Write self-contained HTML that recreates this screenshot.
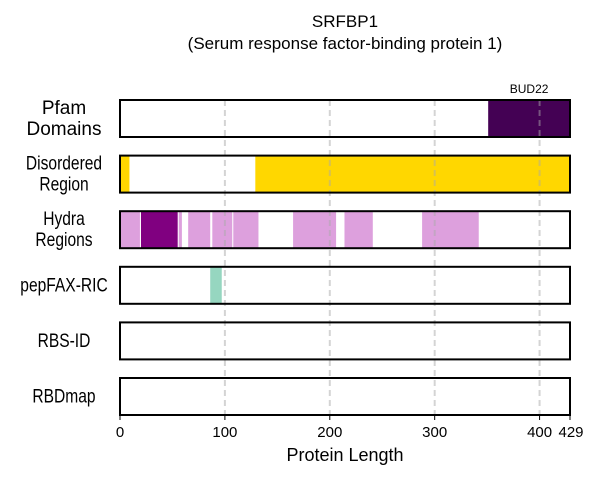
<!DOCTYPE html>
<html><head><meta charset="utf-8"><style>
body{margin:0;background:#fff}
svg text{font-family:"Liberation Sans",Arial,sans-serif;fill:#000}
</style></head><body>
<svg width="600" height="480">
<text x="345" y="27" text-anchor="middle" font-size="17">SRFBP1</text>
<text x="345" y="49" text-anchor="middle" font-size="17">(Serum response factor-binding protein 1)</text>
<g id="plot"></g>
<text x="345" y="461" text-anchor="middle" font-size="18">Protein Length</text>
</svg>
<script>
const proteinLength = 429;
const tickValues = [0, 100, 200, 300, 400, 429];
const tickLabels = ["0", "100", "200", "300", "400", "429"];
const gridValues = [100, 200, 300, 400];
const rowNames = ["Pfam\nDomains", "Disordered\nRegion", "Hydra\nRegions", "pepFAX-RIC", "RBS-ID", "RBDmap"];
const pfamStarts = [351];
const pfamEnds = [429];
const pfamLabels = ["BUD22"];
const disorderedStarts = [0, 129];
const disorderedEnds = [9, 429];
const hydraStarts = [0, 20, 56, 65, 88, 108, 165, 214, 288];
const hydraEnds = [19, 55, 59, 86, 107, 132, 206, 241, 342];
const hydraStrong = [false, true, false, false, false, false, false, false, false];
const pepStarts = [86];
const pepEnds = [97];

const NS = "http://www.w3.org/2000/svg";
const g = document.getElementById("plot");
const X0 = 120, X1 = 570;
const xs = v => X0 + (v / proteinLength) * (X1 - X0);
const rowTop = i => 100 + i * 55.6;
const rowH = 37;
function mk(tag, attrs){const e=document.createElementNS(NS,tag);for(const k in attrs)e.setAttribute(k,attrs[k]);g.appendChild(e);return e;}

function spans(row, starts, ends, colorFn, name){
  for(let i=0;i<starts.length;i++){
    const r = mk("rect",{x:xs(starts[i]),y:rowTop(row),width:xs(ends[i])-xs(starts[i]),height:rowH,fill:colorFn(i)});
    
    
  }
}
spans(0, pfamStarts, pfamEnds, ()=>"#440154", "pfam-domain");
spans(1, disorderedStarts, disorderedEnds, ()=>"#ffd700", "disordered-region");
spans(2, hydraStarts, hydraEnds, i=>hydraStrong[i]?"#800080":"#dda0dd", "hydra-region");
spans(3, pepStarts, pepEnds, ()=>"#96d6c0", "pepfax-region");

for(let i=0;i<pfamLabels.length;i++){
  const t = mk("text",{x:(xs(pfamStarts[i])+xs(pfamEnds[i]))/2,y:rowTop(0)-7,"text-anchor":"middle","font-size":"12"});
  t.textContent = pfamLabels[i];
  
  
}

for(const v of gridValues){
  const l = mk("line",{x1:xs(v),x2:xs(v),y1:rowTop(0),y2:rowTop(5)+rowH,stroke:"#aaa","stroke-opacity":"0.5","stroke-width":"2","stroke-dasharray":"6,4"});
  
  
}

for(let i=0;i<rowNames.length;i++){
  const b = mk("rect",{x:X0,y:rowTop(i),width:X1-X0,height:rowH,fill:"none",stroke:"#000","stroke-width":"2"});
  
  
  const lines = rowNames[i].split("\n");
  const cy = rowTop(i)+rowH/2;
  const fs = i===0?19:19;
  const t = mk("text",{x:64,"text-anchor":"middle","font-size":fs});
  
  
  lines.forEach((ln,k)=>{
    const ts=document.createElementNS(NS,"tspan");
    ts.setAttribute("x",64);
    ts.setAttribute("y",cy+6+(k-(lines.length-1)/2)*(fs+2));
    ts.textContent=ln;t.appendChild(ts);
  });
  if(i>0) t.setAttribute("transform",`translate(64 ${cy}) scale(0.82 1) translate(-64 ${-cy})`);
}

const axY = rowTop(5)+rowH;
tickValues.forEach((v,i)=>{
  const l = mk("line",{x1:xs(v),x2:xs(v),y1:axY,y2:axY+5,stroke:"#000","stroke-width":"1"});
  
  
  const t = mk("text",{x:xs(v)+(v===429?1:0),y:axY+22,"text-anchor":"middle","font-size":"15"});
  t.textContent = tickLabels[i];
  
  
});
</script>
</body></html>
